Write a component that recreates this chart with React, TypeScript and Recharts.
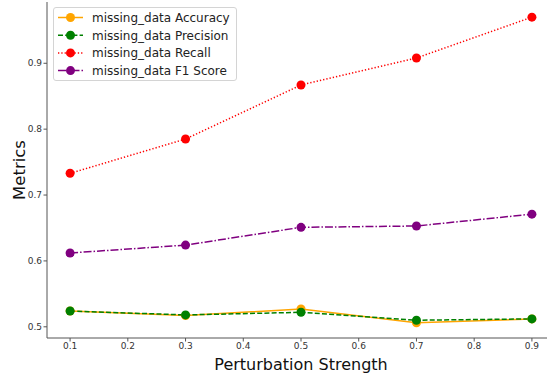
import { LineChart, Line, XAxis, YAxis, Legend } from 'recharts';

// perturbation strengths on the x axis
const strengths = [0.1, 0.3, 0.5, 0.7, 0.9];

// metric values per strength
const accuracy = [0.524, 0.517, 0.527, 0.506, 0.512];
const precision = [0.524, 0.518, 0.522, 0.51, 0.512];
const recall = [0.733, 0.785, 0.867, 0.908, 0.97];
const f1Score = [0.612, 0.624, 0.651, 0.653, 0.671];

const xTicks = [0.1, 0.2, 0.3, 0.4, 0.5, 0.6, 0.7, 0.8, 0.9];
const yTicks = [0.5, 0.6, 0.7, 0.8, 0.9];

const series = [
  { key: 'accuracy', name: 'missing_data Accuracy', color: '#FFA500', dash: undefined as string | undefined },
  { key: 'precision', name: 'missing_data Precision', color: '#008000', dash: '5 2.2' },
  { key: 'recall', name: 'missing_data Recall', color: '#FF0000', dash: '1.3 2' },
  { key: 'f1', name: 'missing_data F1 Score', color: '#800080', dash: '8 2 1.5 2' },
];

const data = strengths.map((s, i) => ({
  strength: s,
  accuracy: accuracy[i],
  precision: precision[i],
  recall: recall[i],
  f1: f1Score[i],
}));

const FONT = '"DejaVu Sans", sans-serif';
const AXIS = '#555';

function LegendBox() {
  const rowH = 17.7;
  return (
    <div
      style={{
        width: 182,
        height: 72,
        border: '1px solid #d4d4d4',
        borderRadius: 3,
        background: 'rgba(255,255,255,0.85)',
      }}
    >
      <svg width={182} height={72} style={{ display: 'block' }}>
        {series.map((s, i) => {
          const y = 9.5 + i * rowH;
          return (
            <g key={s.key}>
              <line x1={4} x2={29} y1={y} y2={y} stroke={s.color} strokeWidth={1.5} strokeDasharray={s.dash} />
              <circle cx={16.5} cy={y} r={4.5} fill={s.color} />
              <text x={38} y={y + 4.3} fontSize={12} fontFamily={FONT} fill="#222">
                {s.name}
              </text>
            </g>
          );
        })}
      </svg>
    </div>
  );
}

export default function App() {
  return (
    <div
      style={{
        position: 'fixed',
        left: 0,
        top: 0,
        width: 547,
        height: 376,
        overflow: 'hidden',
        background: '#fff',
        fontFamily: FONT,
      }}
    >
      <LineChart width={560} height={376} data={data} margin={{ top: 2, right: 5, bottom: 0, left: 0 }}>
        <XAxis
          xAxisId="top"
          orientation="top"
          type="number"
          dataKey="strength"
          domain={[0.06, 0.94]}
          allowDataOverflow
          height={0}
          tick={false}
          tickLine={false}
          axisLine={{ stroke: AXIS, strokeWidth: 1 }}
        />
        <XAxis
          type="number"
          dataKey="strength"
          domain={[0.06, 0.94]}
          allowDataOverflow
          ticks={xTicks}
          tickFormatter={(v: number) => v.toFixed(1)}
          height={38}
          tickSize={3.5}
          tickMargin={1.5}
          tick={{ fontSize: 9, fill: '#333', fontFamily: FONT }}
          tickLine={{ stroke: AXIS }}
          axisLine={{ stroke: AXIS, strokeWidth: 1 }}
          label={{
            value: 'Perturbation Strength',
            position: 'insideBottom',
            offset: 6,
            fontSize: 16,
            fill: '#111',
            fontFamily: FONT,
          }}
        />
        <YAxis
          type="number"
          domain={[0.483, 0.993]}
          allowDataOverflow
          ticks={yTicks}
          tickFormatter={(v: number) => v.toFixed(1)}
          width={47}
          tickSize={3.5}
          tickMargin={1.5}
          tick={{ fontSize: 9, fill: '#333', fontFamily: FONT }}
          tickLine={{ stroke: AXIS }}
          axisLine={{ stroke: AXIS, strokeWidth: 1 }}
          label={{
            content: (props: any) => {
              const vb = props.viewBox || {};
              const cx = 19;
              const cy = (vb.y ?? 0) + (vb.height ?? 0) / 2;
              return (
                <text
                  x={cx}
                  y={cy}
                  transform={`rotate(-90 ${cx} ${cy})`}
                  textAnchor="middle"
                  dominantBaseline="central"
                  fontSize={16.5}
                  fontFamily={FONT}
                  fill="#111"
                >
                  Metrics
                </text>
              );
            },
          }}
        />
        <Legend
          layout="vertical"
          verticalAlign="middle"
          align="center"
          wrapperStyle={{ top: 7, left: 53, width: 'auto' }}
          content={() => <LegendBox />}
        />
        {series.map((s) => (
          <Line
            key={s.key}
            type="linear"
            dataKey={s.key}
            name={s.name}
            stroke={s.color}
            strokeWidth={1.5}
            strokeDasharray={s.dash}
            dot={{ r: 4.5, fill: s.color, stroke: 'none', strokeWidth: 0 }}
            activeDot={false}
            isAnimationActive={false}
          />
        ))}
      </LineChart>
    </div>
  );
}
